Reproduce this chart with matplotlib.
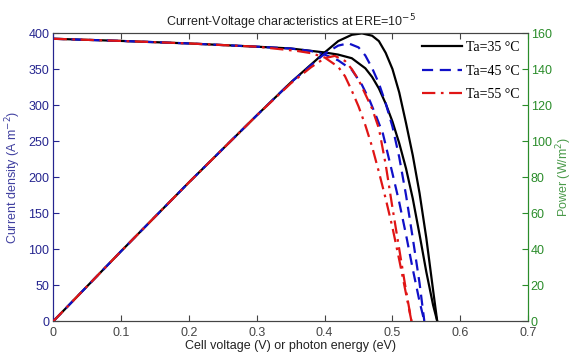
import matplotlib
matplotlib.use("Agg")
import matplotlib.pyplot as plt

# ---- data ----
labels = ["Ta=35 °C", "Ta=45 °C", "Ta=55 °C"]

# current density (A m^-2) vs voltage
v_j35 = [0, 0.1, 0.2, 0.3, 0.35, 0.40, 0.42, 0.44, 0.46, 0.47, 0.48, 0.49, 0.50, 0.51, 0.52, 0.53, 0.54, 0.55, 0.56, 0.566]
j35   = [392, 389, 385.5, 381, 378.5, 373, 370, 365, 351, 339, 323, 302, 277, 247, 212, 170, 120, 68, 22, 0]
v_j45 = [0, 0.1, 0.2, 0.3, 0.35, 0.38, 0.40, 0.42, 0.44, 0.455, 0.467, 0.477, 0.486, 0.50, 0.51, 0.52, 0.53, 0.54, 0.547]
j45   = [392, 389, 385.5, 381, 378.5, 375, 370, 362, 349, 328, 305, 282, 260, 205, 165, 120, 72, 27, 0]
v_j55 = [0, 0.1, 0.2, 0.3, 0.36, 0.38, 0.40, 0.42, 0.43, 0.44, 0.45, 0.46, 0.47, 0.48, 0.49, 0.50, 0.51, 0.52, 0.528]
j55   = [392, 389, 385.5, 381, 375, 372, 366, 353, 340, 320, 298, 272, 242, 207, 170, 130, 85, 38, 0]

# power (W/m^2) vs voltage
v_p35 = [0, 0.1, 0.2, 0.3, 0.35, 0.40, 0.42, 0.44, 0.455, 0.47, 0.48, 0.49, 0.50, 0.51, 0.52, 0.53, 0.54, 0.55, 0.56, 0.566]
p35   = [0, 38.9, 77.1, 114.3, 132.5, 149.2, 155.5, 159, 159.8, 158.5, 155.5, 149, 140, 127, 110, 92, 71, 46, 17, 0]
v_p45 = [0, 0.1, 0.2, 0.3, 0.35, 0.40, 0.42, 0.435, 0.45, 0.46, 0.47, 0.48, 0.49, 0.50, 0.51, 0.52, 0.53, 0.54, 0.547]
p45   = [0, 38.9, 77.1, 114.3, 132.5, 148.5, 153, 154.3, 152, 147.5, 140.5, 132, 121, 108, 91, 70, 46, 21, 0]
v_p55 = [0, 0.1, 0.2, 0.3, 0.35, 0.38, 0.40, 0.415, 0.43, 0.44, 0.45, 0.46, 0.47, 0.48, 0.49, 0.50, 0.51, 0.52, 0.528]
p55   = [0, 38.9, 77.1, 114.3, 132, 141, 146, 147.3, 144.5, 140, 134, 126, 118, 107, 87, 63, 40, 17, 0]

x_ticks = [0, 0.1, 0.2, 0.3, 0.4, 0.5, 0.6, 0.7]
x_ticklabels = ["0", "0.1", "0.2", "0.3", "0.4", "0.5", "0.6", "0.7"]
yl_ticks = [0, 50, 100, 150, 200, 250, 300, 350, 400]
yr_ticks = [0, 20, 40, 60, 80, 100, 120, 140, 160]

# ---- styling ----
plt.rcParams['font.family'] = ['Liberation Sans', 'DejaVu Sans']
c_left = '#25258f'
c_right = '#2a8c2a'
c_axis = '#444444'
colors = ['black', '#1010c8', '#e01515']
styles = ['-', (0, (5, 3)), (0, (6, 2.5, 1.2, 2.5))]

fig = plt.figure(figsize=(5.74, 3.60), dpi=100)
ax = fig.add_axes([0.0932, 0.1083, 0.8267, 0.80])
ax2 = ax.twinx()

vj = [v_j35, v_j45, v_j55]
jj = [j35, j45, j55]
vp = [v_p35, v_p45, v_p55]
pp = [p35, p45, p55]

handles = []
for i in range(3):
    h, = ax.plot(vj[i], jj[i], color=colors[i], linestyle=styles[i], lw=1.6, label=labels[i], zorder=2 + i)
    ax2.plot(vp[i], pp[i], color=colors[i], linestyle=styles[i], lw=1.6, zorder=2 + i)
    handles.append(h)

ax.set_xlim(0, 0.7)
ax.set_ylim(0, 400)
ax2.set_ylim(0, 160)
ax.set_xticks(x_ticks)
ax.set_xticklabels(x_ticklabels)
ax.set_yticks(yl_ticks)
ax2.set_yticks(yr_ticks)

ax.tick_params(axis='x', direction='in', top=True, length=4, labelsize=9, colors=c_axis, pad=4)
ax.tick_params(axis='y', direction='in', length=4, labelsize=9, colors=c_left, pad=3)
ax2.tick_params(axis='y', direction='in', length=4, labelsize=9, colors=c_right, pad=2)

for a in (ax, ax2):
    a.spines['top'].set_color(c_axis)
    a.spines['bottom'].set_color(c_axis)
    a.spines['left'].set_color(c_left)
    a.spines['right'].set_color(c_right)

ax.set_xlabel("Cell voltage (V) or photon energy (eV)", fontsize=9, color='#222222', labelpad=1)
ax.set_ylabel("Current density (A m$^{-2}$)", fontsize=9, color='#4040a0', labelpad=4)
ax2.set_ylabel("Power (W/m$^2$)", fontsize=9, color='#4a9a4a', labelpad=2)
ax.set_title("Current-Voltage characteristics at ERE=10$^{-5}$", fontsize=9, color='#222222', pad=5)

leg = ax2.legend(handles, labels, loc='upper right', frameon=False, handlelength=2.9,
                 handletextpad=0.3, labelspacing=0.75, borderaxespad=0.2,
                 prop={'family': ['Liberation Serif', 'DejaVu Serif'], 'size': 10})

fig.savefig("out.png", dpi=100)
